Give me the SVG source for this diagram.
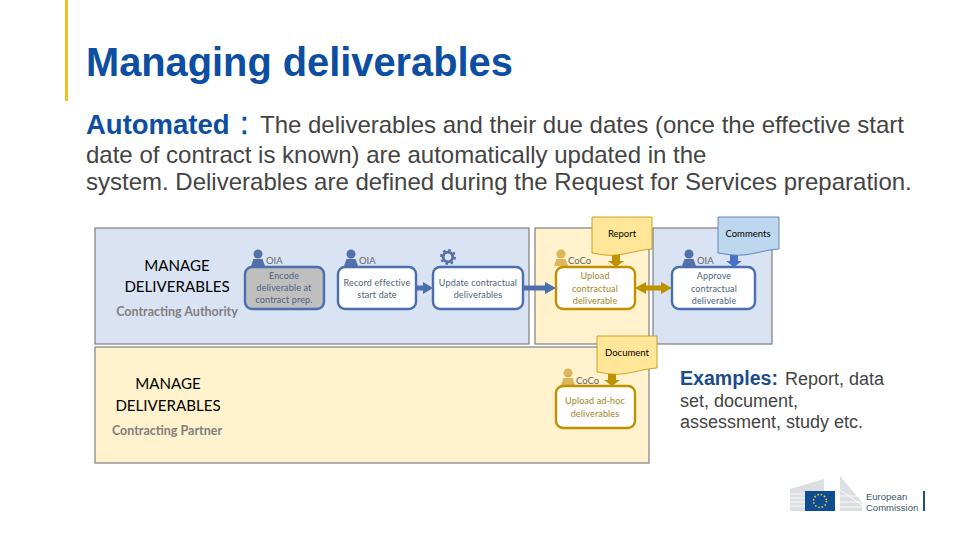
<svg xmlns="http://www.w3.org/2000/svg" width="960" height="540" viewBox="0 0 960 540">
<style>
text{font-family:"Liberation Sans",Arial,sans-serif}
.b{font-size:24px;fill:#444}
.ex{font-size:18px;fill:#444}
.hd{fill:#0b4ea2;font-weight:bold}
.pb{fill:#dae3f3;stroke:#7f7f7f;stroke-width:1.2}
.py{fill:#fff2cc;stroke:#7f7f7f;stroke-width:1.2}
.nb{fill:#fff;stroke:#4a6eae;stroke-width:2.4}
.ny{fill:#fff;stroke:#bf9000;stroke-width:2.4}
.tb,.ty,.dl,.role,.lane,.sub{font-family:Lato,"Liberation Sans",sans-serif}
.tb{font-size:9px;fill:#4d5f7c;text-anchor:middle;letter-spacing:.15px}
.ty{font-size:9px;fill:#a5851f;text-anchor:middle;letter-spacing:.15px}
.role{font-size:9.500px;fill:#666}
.dl{font-size:9.500px;fill:#000;text-anchor:middle}
.dy{fill:#ffe699;stroke:#bf9000;stroke-width:.8}
.db{fill:#bdd7ee;stroke:#4a6eae;stroke-width:.8}
.lane{font-size:15.100px;fill:#000;text-anchor:middle}
.sub{font-size:12.500px;font-weight:bold;fill:#7f7f7f;text-anchor:middle}
</style>
<defs>
<g id="pb" fill="#5470a8"><circle cx="0" cy="-6" r="4.500"/><path d="M-7 6L-4.500-1H4.500L7 6Z"/></g>
<g id="py" fill="#dcb65a"><circle cx="0" cy="-6" r="4.500"/><path d="M-7 6L-4.500-1H4.500L7 6Z"/></g>
</defs>

<rect id="accent" x="65" y="0" width="3" height="101" fill="#f2c21a"/>
<text x="86" y="76" font-size="39.800" class="hd">Managing deliverables</text>
<text x="86" y="134" font-size="27.500" class="hd">Automated</text>
<text x="240" y="134" font-size="31" fill="#0b4ea2" stroke="#0b4ea2" stroke-width=".5">:</text>
<text x="260" y="133" class="b">The deliverables and their due dates (once the effective start</text>
<text x="86" y="163" class="b">date of contract is known) are automatically updated in the</text>
<text x="86" y="190" class="b">system. Deliverables are defined during the Request for Services preparation.</text>

<g id="lanes">
<rect class="pb" x="95" y="228" width="434" height="116"/>
<rect class="py" x="535" y="228" width="114" height="116"/>
<rect class="pb" x="653" y="228" width="119" height="116"/>
<rect class="py" x="95" y="347" width="554" height="116"/>
<text class="lane" x="177" y="271">MANAGE</text>
<text class="lane" x="177" y="292">DELIVERABLES</text>
<text class="sub" x="177" y="316">Contracting Authority</text>
<text class="lane" x="168" y="389">MANAGE</text>
<text class="lane" x="168" y="411">DELIVERABLES</text>
<text class="sub" x="167" y="435">Contracting Partner</text>
</g>

<g id="connectors">
<path d="M416 288H425" stroke="#4a6eae" stroke-width="5"/><path d="M423 282L433 288L423 294Z" fill="#4a6eae"/>
<path d="M523 288H547" stroke="#4a6eae" stroke-width="5"/><path d="M545 282L556 288L545 294Z" fill="#4a6eae"/>
<path d="M643 288H664" stroke="#bf9000" stroke-width="5"/><path d="M646 282L635 288L646 294Z M661 282L672 288L661 294Z" fill="#bf9000"/>
<path d="M616 254V261" stroke="#bf9000" stroke-width="8"/><path d="M608 261H624L616 267Z" fill="#bf9000"/>
<path d="M734 254V261" stroke="#4472c4" stroke-width="8"/><path d="M726 261H742L734 267Z" fill="#4472c4"/>
<path d="M612 373V380" stroke="#bf9000" stroke-width="8"/><path d="M604 380H620L612 386Z" fill="#bf9000"/>
</g>

<g id="n-encode"><use href="#pb" x="258" y="260"/><text class="role" x="266" y="264">OIA</text>
<rect x="245" y="267" width="79" height="42" rx="7" fill="#bfbfbf" stroke="#4a6eae" stroke-width="2.400"/>
<text class="tb" x="284" y="279">Encode</text><text class="tb" x="284" y="291">deliverable at</text><text class="tb" x="284" y="303">contract prep.</text></g>

<g id="n-record"><use href="#pb" x="351" y="260"/><text class="role" x="359" y="264">OIA</text>
<rect class="nb" x="338" y="267" width="78" height="42" rx="7"/>
<text class="tb" x="377" y="286">Record effective</text><text class="tb" x="377" y="298">start date</text></g>

<g id="n-update"><g fill="none" stroke="#5470a8"><circle cx="448" cy="257" r="4.800" stroke-width="2.800"/><circle cx="448" cy="257" r="7" stroke-width="2" stroke-dasharray="2.700 2.800"/></g>
<rect class="nb" x="433" y="267" width="90" height="42" rx="7"/>
<text class="tb" x="478" y="286">Update contractual</text><text class="tb" x="478" y="298">deliverables</text></g>

<g id="n-upload"><use href="#py" x="561" y="260"/><text class="role" x="568" y="264">CoCo</text>
<rect class="ny" x="556" y="267" width="79" height="42" rx="7"/>
<text class="ty" x="595" y="279">Upload</text><text class="ty" x="595" y="292">contractual</text><text class="ty" x="595" y="304">deliverable</text></g>

<g id="n-approve"><use href="#pb" x="689" y="260"/><text class="role" x="697" y="264">OIA</text>
<rect class="nb" x="672" y="267" width="83" height="42" rx="7"/>
<text class="tb" x="714" y="279">Approve</text><text class="tb" x="714" y="292">contractual</text><text class="tb" x="714" y="304">deliverable</text></g>

<g id="n-adhoc"><use href="#py" x="568" y="379"/><text class="role" x="576" y="384">CoCo</text>
<rect class="ny" x="556" y="386" width="79" height="42" rx="7"/>
<text class="ty" x="595" y="404">Upload ad-hoc</text><text class="ty" x="595" y="417">deliverables</text></g>

<g id="d-report"><path class="dy" d="M592 217H652V249C638 250 628 254 616 255C606 256 600 254 592 253Z"/><text class="dl" x="622" y="237">Report</text></g>
<g id="d-comments"><path class="db" d="M718 217H779V249C765 250 755 254 743 255C733 256 726 254 718 253Z"/><text class="dl" x="748" y="237">Comments</text></g>
<g id="d-document"><path class="dy" d="M597 336H657V368C643 369 633 373 621 374C611 375 605 373 597 372Z"/><text class="dl" x="627" y="356">Document</text></g>

<g id="examples">
<text x="680" y="385" font-size="19.600" class="hd" style="fill:#1a4c8c">Examples:</text>
<text x="785" y="385" class="ex">Report, data</text>
<text x="680" y="407" class="ex">set, document,</text>
<text x="680" y="428" class="ex">assessment, study etc.</text>
</g>

<g id="logo">
<path d="M790 489L824 479V491H805V511H790Z" fill="#dcdfe2"/>
<path d="M840 476L862 502V511H840Z" fill="#dcdfe2"/>
<g stroke="#fff" stroke-width=".8"><path d="M790 494H805M790 498H805M790 502H805M790 506H805M840 490L862 505M840 496H862M840 502H862M840 507H862"/></g>
<rect x="805" y="491" width="30" height="20" fill="#0f4d92"/>
<circle cx="820" cy="501" r="6.500" fill="none" stroke="#f5d327" stroke-width="1.500" stroke-dasharray="1.500 1.900"/>
<text x="866" y="500" font-size="9.500" fill="#44546a">European</text>
<text x="866" y="511" font-size="9.500" fill="#44546a">Commission</text>
<rect x="923" y="491" width="2" height="20" fill="#1f4f7f"/>
</g>
</svg>
